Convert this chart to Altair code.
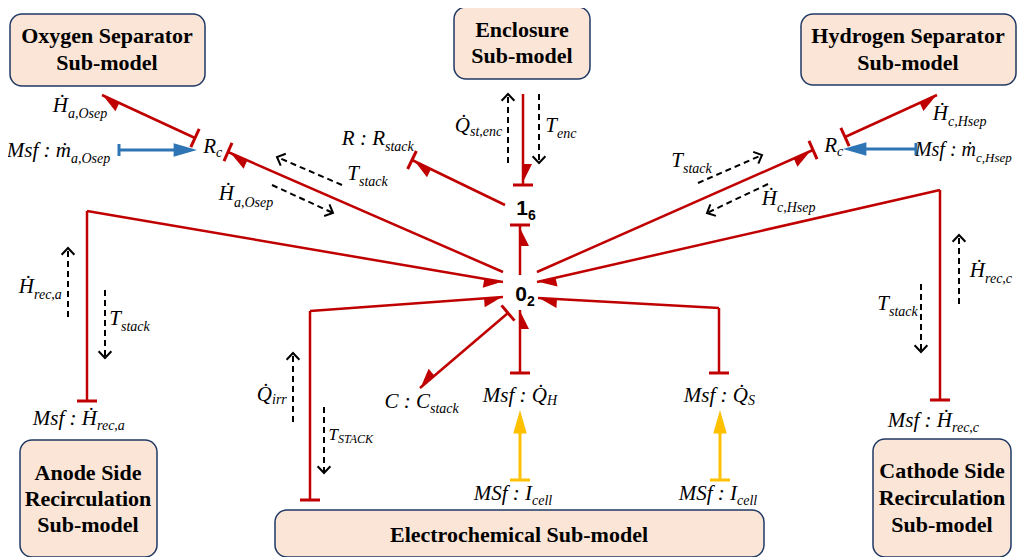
import math
import altair as alt
import pandas as pd

# ---------------- colours ----------------
RED, BLUE, YEL, BLK = "#C00000", "#2E75B6", "#FFC000", "#000000"
BOX_FILL, BOX_EDGE = "#FBE5D6", "#1F3864"

# ---------------- sub-model boxes ----------------
box_x1 = [10, 454, 801, 20, 275, 873]
box_x2 = [205, 590, 1016, 157, 764, 1011]
box_y1 = [14, 7, 14, 440, 510, 439]
box_y2 = [86, 79, 85, 557, 557, 557]

box_text = ["Oxygen Separator", "Sub-model", "Enclosure", "Sub-model",
            "Hydrogen Separator", "Sub-model", "Anode Side", "Recirculation",
            "Sub-model", "Electrochemical Sub-model", "Cathode Side",
            "Recirculation", "Sub-model"]
box_text_x = [107, 107, 522, 522, 908, 908, 88, 88, 88, 519, 942, 942, 942]
box_text_y = [43, 70, 37, 63, 43, 70, 480, 506, 532, 542, 478, 505, 532]

# ---------------- junction nodes ----------------
node_main = ["1", "0"]
node_sub = ["6", "2"]
node_x = [528, 527]
node_y = [215, 301]

# ---------------- power bonds (red) ----------------
bond_paths = [
    [(523, 94), (523, 185)],               # Enclosure -> 1_6
    [(505, 205), (412, 160)],              # 1_6 -> R:Rstack
    [(520, 275), (520, 225)],              # 0_2 -> 1_6
    [(503, 272), (228, 152)],              # 0_2 -> Rc (O2 side)
    [(195, 138), (102, 95)],               # Rc -> O2 separator
    [(87, 401), (87, 211), (503, 282)],    # anode recirculation -> 0_2
    [(310, 500), (310, 311), (503, 297)],  # electrochemical -> 0_2
    [(508, 313), (420, 388)],              # 0_2 -> C:Cstack
    [(520, 373), (520, 310)],              # Msf:QH -> 0_2
    [(719, 373), (719, 308), (538, 298)],  # Msf:QS -> 0_2
    [(537, 272), (813, 150)],              # 0_2 -> Rc (H2 side)
    [(845, 137), (937, 95)],               # Rc -> H2 separator
    [(940, 400), (940, 190), (537, 282)],  # cathode recirculation -> 0_2
]
bond_side = [-1, -1, 1, -1, -1, 1, 1, 1, 1, -1, 1, 1, -1]
bond_stroke = ["end", "end", "end", "end", "start", "start", "start",
               "start", "start", "start", "end", "start", "start"]

# ---------------- signal bonds (full arrows) ----------------
sig_paths = [[(119, 150), (190, 150)], [(916, 149), (850, 149)],
             [(520, 480), (520, 418)], [(720, 480), (720, 418)]]
sig_tip = [(197, 150), (843, 149), (520, 410), (720, 410)]
sig_color = [BLUE, BLUE, YEL, YEL]
sig_half = [6, 6, 10, 10]

# ---------------- dashed information arrows ----------------
dash_x1 = [508, 539, 342, 272, 68, 105, 293, 324, 698, 768, 959, 921]
dash_y1 = [163, 94, 185, 185, 317, 290, 422, 407, 183, 184, 304, 284]
dash_x2 = [508, 539, 277, 333, 68, 105, 293, 324, 762, 707, 959, 921]
dash_y2 = [94, 163, 157, 213, 248, 358, 353, 473, 155, 213, 235, 352]

# ---------------- italic labels: main part + subscript ----------------
H_DOT, M_DOT, Q_DOT = "\u1E22", "\u1E41", "Q\u0307"
lab_x = [68, 71, 216, 234, 385, 359, 470, 557, 683, 837, 948, 976, 777,
         34, 121, 985, 889, 272, 338, 430, 547, 748, 532, 737, 97, 952]
lab_y = [112, 157, 153, 200, 145, 180, 132, 132, 167, 152, 120, 156, 205,
         293, 325, 277, 310, 401, 440, 408, 402, 402, 500, 500, 425, 427]
lab_main = [H_DOT, "Msf : " + M_DOT, "R", H_DOT, "R : R", "T", Q_DOT, "T",
            "T", "R", H_DOT, "Msf : " + M_DOT, H_DOT, H_DOT, "T", H_DOT, "T",
            Q_DOT, "T", "C : C", "Msf : " + Q_DOT, "Msf : " + Q_DOT,
            "MSf : I", "MSf : I", "Msf : " + H_DOT, "Msf : " + H_DOT]
lab_sub = ["a,Osep", "a,Osep", "c", "a,Osep", "stack", "stack", "st,enc",
           "enc", "stack", "c", "c,Hsep", "c,Hsep", "c,Hsep", "rec,a",
           "stack", "rec,c", "stack", "irr", "STACK", "stack", "H", "S",
           "cell", "cell", "rec,a", "rec,c"]
lab_main_size = [21] * 26
lab_main_size[18] = 17
lab_main_size[11] = 20
lab_sub_size = [14] * 26
lab_sub_size[18] = 12
lab_sub_size[11] = 13
lab_sub_dy = [6, 6, 4, 7, 6, 6, 4, 6, 6, 4, 6, 6, 7, 6, 6, 6, 6, 3, 3,
              5, 3, 3, 5, 5, 5, 5]

# ---------------- symbol paths ----------------
HALF_R = "M0,0 L0,2 L1,2 Z"
HALF_L = "M0,0 L0,2 L-1,2 Z"
FULL = "M0,0 L-0.75,2.6 L0.75,2.6 Z"
OPEN = "M-0.8,0.85 L0,0 L0.8,0.85"


def unit(ax, ay, bx, by):
    dx, dy = bx - ax, by - ay
    L = math.hypot(dx, dy)
    return dx / L, dy / L


def angle(ux, uy):
    return math.degrees(math.atan2(ux, -uy)) % 360


seg_rows, stroke_rows, half_rows, full_rows = [], [], [], []
for pts, side, sp in zip(bond_paths, bond_side, bond_stroke):
    for (ax, ay), (bx, by) in zip(pts[:-1], pts[1:]):
        seg_rows.append(dict(x=ax, y=ay, x2=bx, y2=by, col=RED, w=2.5))
    if sp == "end":
        (ax, ay), (bx, by) = pts[-2], pts[-1]
        px, py = bx, by
    else:
        (ax, ay), (bx, by) = pts[0], pts[1]
        px, py = ax, ay
    ux, uy = unit(ax, ay, bx, by)
    nx, ny = -uy, ux
    stroke_rows.append(dict(x=px - nx * 10, y=py - ny * 10,
                            x2=px + nx * 10, y2=py + ny * 10, col=RED))
    (ax, ay), (bx, by) = pts[-2], pts[-1]
    ux, uy = unit(ax, ay, bx, by)
    back = 3 if sp == "end" else 1
    half_rows.append(dict(x=bx - ux * back, y=by - uy * back,
                          ang=angle(ux, uy),
                          shape=HALF_R if side > 0 else HALF_L, col=RED))

for pts, tip, col, hw in zip(sig_paths, sig_tip, sig_color, sig_half):
    (ax, ay), (bx, by) = pts[0], pts[1]
    seg_rows.append(dict(x=ax, y=ay, x2=bx, y2=by, col=col, w=3))
    ux, uy = unit(ax, ay, bx, by)
    nx, ny = -uy, ux
    stroke_rows.append(dict(x=ax - nx * hw, y=ay - ny * hw,
                            x2=ax + nx * hw, y2=ay + ny * hw, col=col))
    full_rows.append(dict(x=tip[0], y=tip[1], ang=angle(ux, uy), col=col))

dash_df = pd.DataFrame(dict(x=dash_x1, y=dash_y1, x2=dash_x2, y2=dash_y2))
dash_df["ang"] = [angle(*unit(a, b, c, d)) for a, b, c, d in
                  zip(dash_x1, dash_y1, dash_x2, dash_y2)]

seg_df = pd.DataFrame(seg_rows)
stroke_df = pd.DataFrame(stroke_rows)
half_df = pd.DataFrame(half_rows)
full_df = pd.DataFrame(full_rows)
box_df = pd.DataFrame(dict(x=box_x1, x2=box_x2, y=box_y1, y2=box_y2))
boxtxt_df = pd.DataFrame(dict(x=box_text_x, y=box_text_y, t=box_text))
lab_df = pd.DataFrame(dict(x=lab_x, y=lab_y, m=lab_main, s=lab_sub,
                           ms=lab_main_size, ss=lab_sub_size,
                           sy=[a + b for a, b in zip(lab_y, lab_sub_dy)]))
node_df = pd.DataFrame(dict(x=node_x, y=node_y, m=node_main, s=node_sub,
                            sy=[v + 5 for v in node_y]))

# ---------------- scales ----------------
W, H = 1009, 549
XS = alt.Scale(domain=[8, 8 + W], nice=False, zero=False)
YS = alt.Scale(domain=[8, 8 + H], nice=False, zero=False, reverse=True)


def X(f="x"):
    return alt.X(f, type="quantitative", scale=XS, axis=None)


def Y(f="y"):
    return alt.Y(f, type="quantitative", scale=YS, axis=None)


boxes = alt.Chart(box_df).mark_rect(
    fill=BOX_FILL, stroke=BOX_EDGE, strokeWidth=1.5, cornerRadius=12
).encode(x=X(), x2="x2", y=Y(), y2="y2")

box_labels = alt.Chart(boxtxt_df).mark_text(
    font="Liberation Serif", fontWeight="bold", fontSize=22,
    align="center", baseline="alphabetic", color=BLK
).encode(x=X(), y=Y(), text="t:N")

segs = alt.Chart(seg_df).mark_rule(strokeCap="butt").encode(
    x=X(), y=Y(), x2="x2", y2="y2",
    color=alt.Color("col:N", scale=None),
    strokeWidth=alt.StrokeWidth("w:Q", scale=None))

strokes = alt.Chart(stroke_df).mark_rule(strokeWidth=3).encode(
    x=X(), y=Y(), x2="x2", y2="y2", color=alt.Color("col:N", scale=None))

dashes = alt.Chart(dash_df).mark_rule(
    strokeWidth=2, strokeDash=[6, 4], color=BLK
).encode(x=X(), y=Y(), x2="x2", y2="y2")

dash_heads = alt.Chart(dash_df).mark_point(
    shape=OPEN, filled=False, size=256, strokeWidth=2, color=BLK, opacity=1
).encode(x=X("x2"), y=Y("y2"), angle=alt.Angle("ang:Q", scale=None))

halves = alt.Chart(half_df).mark_point(
    filled=True, size=324, opacity=1, strokeWidth=0
).encode(x=X(), y=Y(), angle=alt.Angle("ang:Q", scale=None),
         shape=alt.Shape("shape:N", scale=None),
         color=alt.Color("col:N", scale=None))

fulls = alt.Chart(full_df).mark_point(
    shape=FULL, filled=True, size=324, opacity=1, strokeWidth=0
).encode(x=X(), y=Y(), angle=alt.Angle("ang:Q", scale=None),
         color=alt.Color("col:N", scale=None))

lab_main_layer = alt.Chart(lab_df).mark_text(
    font="Liberation Serif", fontStyle="italic", align="right",
    baseline="alphabetic", color=BLK
).encode(x=X(), y=Y(), text="m:N", size=alt.Size("ms:Q", scale=None))

lab_sub_layer = alt.Chart(lab_df).mark_text(
    font="Liberation Serif", fontStyle="italic", align="left",
    baseline="alphabetic", color=BLK
).encode(x=X(), y=Y("sy"), text="s:N", size=alt.Size("ss:Q", scale=None))

node_main_layer = alt.Chart(node_df).mark_text(
    font="Liberation Sans", fontWeight="bold", fontSize=21, align="right",
    baseline="alphabetic", color=BLK
).encode(x=X(), y=Y(), text="m:N")

node_sub_layer = alt.Chart(node_df).mark_text(
    font="Liberation Sans", fontWeight="bold", fontSize=14, align="left",
    baseline="alphabetic", color=BLK
).encode(x=X(), y=Y("sy"), text="s:N")

chart = alt.layer(
    boxes, box_labels, segs, strokes, dashes, dash_heads, halves, fulls,
    lab_main_layer, lab_sub_layer, node_main_layer, node_sub_layer
).properties(
    width=W, height=H, padding=0, autosize="none", background="white"
).configure_view(stroke=None)

chart.save("out.html", embed_options={"renderer": "svg", "actions": False})
